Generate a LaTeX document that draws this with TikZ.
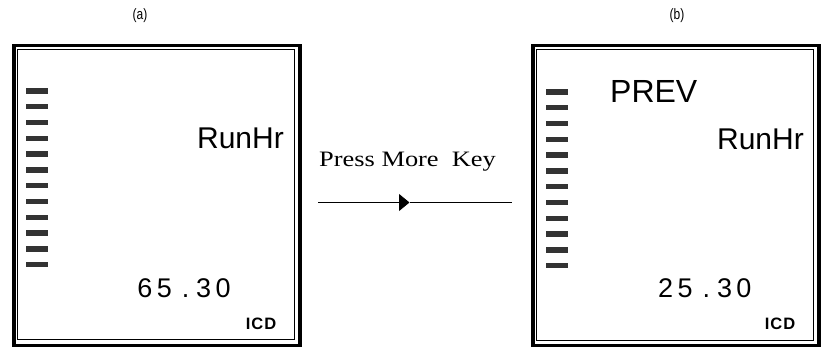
\documentclass[tikz,border=0pt]{standalone}
\usepackage{fontspec}
\setmainfont{Liberation Sans}
\newfontfamily\serifface[FakeStretch=1.2]{Liberation Serif}
\newfontfamily\capface[FakeStretch=0.8]{Liberation Sans}
\usetikzlibrary{arrows.meta}
\definecolor{segdark}{HTML}{333333}
\tikzset{
  outerframe/.style={draw, line width=3.5pt, inner sep=0pt, anchor=north west},
  innerframe/.style={draw, line width=0.9pt, inner sep=0pt, anchor=north west},
  segbar/.style={fill=segdark, draw=none, inner sep=0pt, minimum width=22pt, minimum height=5.5pt, anchor=north west},
  lcdword/.style={inner sep=0pt, font=\fontsize{30}{30}\selectfont},
  lcdnum/.style={inner sep=0pt, font=\fontsize{27}{27}\selectfont},
  lcdtag/.style={inner sep=0pt, font=\fontsize{16.5}{16.5}\selectfont\bfseries},
  caption/.style={inner sep=0pt, font=\capface\fontsize{15}{15}\selectfont},
  keytext/.style={inner sep=0pt, font=\serifface\fontsize{22}{22}\selectfont},
}
\begin{document}
\begin{tikzpicture}[x=1pt,y=-1pt]
\useasboundingbox (0,0) rectangle (823,347);

% captions
\node[caption] (capA) at (140,16) {(a)};
\node[caption] (capB) at (677,16) {(b)};

% display (a)
\node[outerframe, minimum width=286pt, minimum height=300pt] (frameA) at (12,44) {};
\node[innerframe, minimum width=277.5pt, minimum height=290pt] (innerA) at (16.5,49.5) {};
\foreach \i in {0,...,11}
  \node[segbar] (barA\i) at (26,{88+15.8*\i}) {};
\node[lcdword, anchor=base east] (runA) at (284,148.5) {RunHr};
\node[lcdnum, anchor=base west] (valA) at (137.2,298) {6\kern4.4pt5\kern10.1pt.\kern6.8pt3\kern4.4pt0};
\node[lcdtag, anchor=base east] (icdA) at (276.5,330) {I\kern1pt C\kern1pt D};

% display (b)
\node[outerframe, minimum width=286pt, minimum height=300pt] (frameB) at (531,44) {};
\node[innerframe, minimum width=277pt, minimum height=290.5pt] (innerB) at (536,49.5) {};
\foreach \i in {0,...,11}
  \node[segbar] (barB\i) at (546,{89+15.8*\i}) {};
\node[lcdword, anchor=base west, font=\fontsize{32}{32}\selectfont] (prevB) at (610,103) {PREV};
\node[lcdword, anchor=base east] (runB) at (804,149.5) {RunHr};
\node[lcdnum, anchor=base west] (valB) at (658,298) {2\kern4.4pt5\kern10.1pt.\kern6.8pt3\kern4.4pt0};
\node[lcdtag, anchor=base east] (icdB) at (795.5,330) {I\kern1pt C\kern1pt D};

% transition arrow
\node[keytext, anchor=base west] (keylabel) at (319,167) {Press More\ \ Key};
\coordinate (arrowstart) at (318,202.5);
\coordinate (arrowtip) at (409.5,202.5);
\coordinate (arrowend) at (512,202.5);
\draw[line width=0.9pt, -{Triangle[length=10.5pt,width=17pt]}] (arrowstart) -- (arrowtip);
\draw[line width=0.9pt] (arrowtip) -- (arrowend);
\end{tikzpicture}
\end{document}
